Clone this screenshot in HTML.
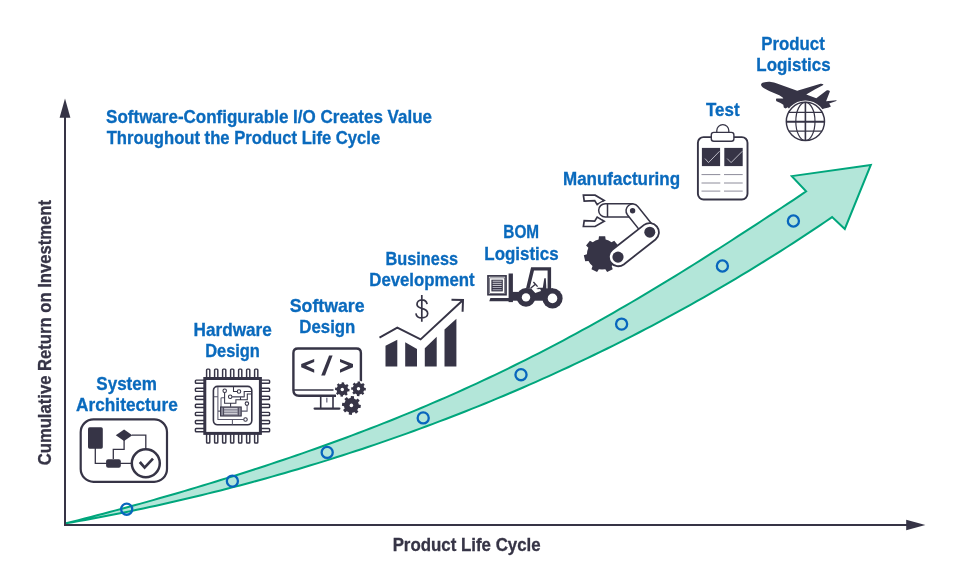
<!DOCTYPE html>
<html><head><meta charset="utf-8"><style>
html,body{margin:0;padding:0;background:#fff;}
svg{display:block;will-change:transform;}
text{font-family:"Liberation Sans",sans-serif;font-weight:bold;font-size:17.8px;}
</style></head><body>
<svg width="968" height="570" viewBox="0 0 968 570">
<rect width="968" height="570" fill="#fff"/>
<path d="M66,523.2 L72.22,521.71 L78.44,520.15 L84.66,518.56 L90.88,516.96 L97.1,515.34 L103.32,513.71 L109.54,512.06 L115.75,510.4 L121.97,508.72 L128.19,507.02 L134.41,505.32 L140.63,503.59 L146.85,501.85 L153.07,500.1 L159.29,498.33 L165.51,496.55 L171.73,494.75 L177.95,492.94 L184.17,491.11 L190.39,489.27 L196.61,487.41 L202.83,485.54 L209.04,483.65 L215.26,481.75 L221.48,479.83 L227.7,477.9 L233.92,475.95 L240.14,473.98 L246.36,471.99 L252.58,469.99 L258.8,467.97 L265.02,465.94 L271.24,463.88 L277.46,461.81 L283.68,459.72 L289.9,457.61 L296.12,455.48 L302.33,453.33 L308.55,451.16 L314.77,448.97 L320.99,446.76 L327.21,444.53 L333.43,442.28 L339.65,440 L345.87,437.7 L352.09,435.38 L358.31,433.04 L364.53,430.67 L370.75,428.28 L376.97,425.86 L383.19,423.42 L389.41,420.95 L395.62,418.46 L401.84,415.94 L408.06,413.4 L414.28,410.83 L420.5,408.23 L426.72,405.6 L432.94,402.94 L439.16,400.26 L445.38,397.55 L451.6,394.81 L457.82,392.04 L464.04,389.24 L470.26,386.41 L476.48,383.55 L482.69,380.66 L488.91,377.74 L495.13,374.79 L501.35,371.81 L507.57,368.8 L513.79,365.76 L520.01,362.68 L526.23,359.58 L532.45,356.44 L538.67,353.27 L544.89,350.07 L551.11,346.84 L557.33,343.57 L563.55,340.28 L569.77,336.95 L575.98,333.6 L582.2,330.21 L588.42,326.79 L594.64,323.34 L600.86,319.85 L607.08,316.34 L613.3,312.8 L619.52,309.23 L625.74,305.63 L631.96,302 L638.18,298.34 L644.4,294.66 L650.62,290.94 L656.84,287.2 L663.06,283.44 L669.27,279.64 L675.49,275.83 L681.71,271.99 L687.93,268.12 L694.15,264.23 L700.37,260.32 L706.59,256.39 L712.81,252.44 L719.03,248.47 L725.25,244.49 L731.47,240.48 L737.69,236.46 L743.91,232.43 L750.13,228.38 L756.35,224.33 L762.56,220.26 L768.78,216.18 L775,212.09 L781.22,208 L787.44,203.9 L793.66,199.8 L799.88,195.7 L806.1,191.4 L791.8,176.1 L870.8,165 L844.8,229 L832.1,217.1 L832.1,217.1 L825.66,221.5 L819.22,225.85 L812.79,230.15 L806.35,234.42 L799.91,238.65 L793.47,242.84 L787.04,246.99 L780.6,251.1 L774.16,255.17 L767.72,259.21 L761.28,263.21 L754.85,267.17 L748.41,271.09 L741.97,274.98 L735.53,278.84 L729.09,282.65 L722.66,286.44 L716.22,290.18 L709.78,293.89 L703.34,297.57 L696.91,301.21 L690.47,304.82 L684.03,308.4 L677.59,311.94 L671.15,315.44 L664.72,318.92 L658.28,322.36 L651.84,325.77 L645.4,329.15 L638.97,332.49 L632.53,335.8 L626.09,339.08 L619.65,342.33 L613.21,345.55 L606.78,348.74 L600.34,351.9 L593.9,355.02 L587.46,358.12 L581.03,361.18 L574.59,364.22 L568.15,367.23 L561.71,370.2 L555.27,373.15 L548.84,376.07 L542.4,378.96 L535.96,381.82 L529.52,384.66 L523.08,387.46 L516.65,390.24 L510.21,392.99 L503.77,395.71 L497.33,398.4 L490.9,401.07 L484.46,403.71 L478.02,406.32 L471.58,408.91 L465.14,411.47 L458.71,414 L452.27,416.51 L445.83,418.99 L439.39,421.44 L432.96,423.87 L426.52,426.27 L420.08,428.65 L413.64,431.01 L407.2,433.33 L400.77,435.64 L394.33,437.91 L387.89,440.17 L381.45,442.39 L375.02,444.6 L368.58,446.78 L362.14,448.93 L355.7,451.06 L349.26,453.17 L342.83,455.25 L336.39,457.31 L329.95,459.35 L323.51,461.36 L317.07,463.35 L310.64,465.31 L304.2,467.25 L297.76,469.17 L291.32,471.07 L284.89,472.94 L278.45,474.79 L272.01,476.62 L265.57,478.42 L259.13,480.2 L252.7,481.96 L246.26,483.7 L239.82,485.41 L233.38,487.1 L226.95,488.77 L220.51,490.42 L214.07,492.05 L207.63,493.65 L201.19,495.23 L194.76,496.79 L188.32,498.32 L181.88,499.84 L175.44,501.33 L169.01,502.8 L162.57,504.25 L156.13,505.68 L149.69,507.09 L143.25,508.47 L136.82,509.83 L130.38,511.17 L123.94,512.49 L117.5,513.79 L111.06,515.07 L104.63,516.32 L98.19,517.55 L91.75,518.76 L85.31,519.95 L78.88,521.12 L72.44,522.27 L66,523.2Z" fill="#b3e6d9" stroke="#00a67c" stroke-width="2" stroke-linejoin="miter"/>
<circle cx="126.7" cy="509.2" r="5.55" fill="none" stroke="#0866bd" stroke-width="2.3"/>
<circle cx="232.4" cy="481.1" r="5.55" fill="none" stroke="#0866bd" stroke-width="2.3"/>
<circle cx="327.2" cy="452.4" r="5.55" fill="none" stroke="#0866bd" stroke-width="2.3"/>
<circle cx="423.2" cy="417.9" r="5.55" fill="none" stroke="#0866bd" stroke-width="2.3"/>
<circle cx="521" cy="374.7" r="5.55" fill="none" stroke="#0866bd" stroke-width="2.3"/>
<circle cx="621.6" cy="324.1" r="5.55" fill="none" stroke="#0866bd" stroke-width="2.3"/>
<circle cx="722.4" cy="266.0" r="5.55" fill="none" stroke="#0866bd" stroke-width="2.3"/>
<circle cx="793.4" cy="221.0" r="5.55" fill="none" stroke="#0866bd" stroke-width="2.3"/>
<path d="M65,116 V525 H907" fill="none" stroke="#363446" stroke-width="2"/>
<path d="M65,98.4 L59.6,117.8 L70.4,117.8Z" fill="#363446"/>
<path d="M925.4,525 L906.2,519.7 L906.2,530.3Z" fill="#363446"/>
<text x="106.1" y="122.8" text-anchor="start" fill="#0a6abd" stroke="#0a6abd" stroke-width="0.3" textLength="325.93" lengthAdjust="spacingAndGlyphs">Software-Configurable I/O Creates Value</text>
<text x="106.7" y="143.9" text-anchor="start" fill="#0a6abd" stroke="#0a6abd" stroke-width="0.3" textLength="273.54" lengthAdjust="spacingAndGlyphs">Throughout the Product Life Cycle</text>
<text x="126.6" y="389.8" text-anchor="middle" fill="#0a6abd" stroke="#0a6abd" stroke-width="0.3" textLength="60.59" lengthAdjust="spacingAndGlyphs">System</text>
<text x="126.9" y="410.9" text-anchor="middle" fill="#0a6abd" stroke="#0a6abd" stroke-width="0.3" textLength="101.72" lengthAdjust="spacingAndGlyphs">Architecture</text>
<text x="232.65" y="336.3" text-anchor="middle" fill="#0a6abd" stroke="#0a6abd" stroke-width="0.3" textLength="78.19" lengthAdjust="spacingAndGlyphs">Hardware</text>
<text x="232.55" y="357.1" text-anchor="middle" fill="#0a6abd" stroke="#0a6abd" stroke-width="0.3" textLength="54.76" lengthAdjust="spacingAndGlyphs">Design</text>
<text x="327.15" y="312.1" text-anchor="middle" fill="#0a6abd" stroke="#0a6abd" stroke-width="0.3" textLength="74.8" lengthAdjust="spacingAndGlyphs">Software</text>
<text x="327.35" y="332.8" text-anchor="middle" fill="#0a6abd" stroke="#0a6abd" stroke-width="0.3" textLength="55.97" lengthAdjust="spacingAndGlyphs">Design</text>
<text x="421.8" y="265.1" text-anchor="middle" fill="#0a6abd" stroke="#0a6abd" stroke-width="0.3" textLength="72.42" lengthAdjust="spacingAndGlyphs">Business</text>
<text x="421.95" y="286.0" text-anchor="middle" fill="#0a6abd" stroke="#0a6abd" stroke-width="0.3" textLength="105.31" lengthAdjust="spacingAndGlyphs">Development</text>
<text x="521.2" y="237.9" text-anchor="middle" fill="#0a6abd" stroke="#0a6abd" stroke-width="0.3" textLength="35.76" lengthAdjust="spacingAndGlyphs">BOM</text>
<text x="521.5" y="259.6" text-anchor="middle" fill="#0a6abd" stroke="#0a6abd" stroke-width="0.3" textLength="74.28" lengthAdjust="spacingAndGlyphs">Logistics</text>
<text x="621.55" y="184.5" text-anchor="middle" fill="#0a6abd" stroke="#0a6abd" stroke-width="0.3" textLength="117.09" lengthAdjust="spacingAndGlyphs">Manufacturing</text>
<text x="722.8" y="115.8" text-anchor="middle" fill="#0a6abd" stroke="#0a6abd" stroke-width="0.3" textLength="33.48" lengthAdjust="spacingAndGlyphs">Test</text>
<text x="793.1" y="49.5" text-anchor="middle" fill="#0a6abd" stroke="#0a6abd" stroke-width="0.3" textLength="63.46" lengthAdjust="spacingAndGlyphs">Product</text>
<text x="793.45" y="70.9" text-anchor="middle" fill="#0a6abd" stroke="#0a6abd" stroke-width="0.3" textLength="74.18" lengthAdjust="spacingAndGlyphs">Logistics</text>
<text x="466.65" y="550.8" text-anchor="middle" fill="#363446" stroke="#363446" stroke-width="0.3" textLength="148.05" lengthAdjust="spacingAndGlyphs">Product Life Cycle</text>
<text transform="translate(50.5,332.65) rotate(-90)" text-anchor="middle" fill="#363446" stroke="#363446" stroke-width="0.3" textLength="265.25" lengthAdjust="spacingAndGlyphs">Cumulative Return on Investment</text>
<g fill="none" stroke="#363446">
<rect x="80.7" y="419.4" width="86.3" height="62.4" rx="12.8" stroke-width="2.2"/>
<path d="M95.3,448 V463.3 H107 M113.3,459 V449.4 H124.1 V440 M132,435.2 H145.8 V449 M120,463.3 H132" stroke-width="1.3"/>
<circle cx="145.8" cy="463.3" r="14" stroke-width="2.5"/>
<path d="M139.8,462 L144.6,467.6 L153,458.6" stroke-width="2.7"/>
</g>
<g fill="#363446">
<rect x="88" y="427.3" width="14.8" height="21.4" rx="1.6"/>
<rect x="106.1" y="459.2" width="14.7" height="8.5" rx="2"/>
<path d="M115.8,435.2 L124.1,429.4 L132.3,435.2 L124.1,441Z"/>
</g>
<g fill="#fff" stroke="#363446" stroke-width="1.45">
<rect x="206.6" y="369.1" width="3.2" height="10" rx="0.8"/><rect x="206.6" y="432.6" width="3.2" height="10.4" rx="0.8"/><rect x="195.4" y="380.1" width="10" height="3.2" rx="0.8"/><rect x="259.5" y="380.1" width="10.1" height="3.2" rx="0.8"/><rect x="214.6" y="369.1" width="3.2" height="10" rx="0.8"/><rect x="214.6" y="432.6" width="3.2" height="10.4" rx="0.8"/><rect x="195.4" y="388.17" width="10" height="3.2" rx="0.8"/><rect x="259.5" y="388.17" width="10.1" height="3.2" rx="0.8"/><rect x="222.6" y="369.1" width="3.2" height="10" rx="0.8"/><rect x="222.6" y="432.6" width="3.2" height="10.4" rx="0.8"/><rect x="195.4" y="396.24" width="10" height="3.2" rx="0.8"/><rect x="259.5" y="396.24" width="10.1" height="3.2" rx="0.8"/><rect x="230.6" y="369.1" width="3.2" height="10" rx="0.8"/><rect x="230.6" y="432.6" width="3.2" height="10.4" rx="0.8"/><rect x="195.4" y="404.31" width="10" height="3.2" rx="0.8"/><rect x="259.5" y="404.31" width="10.1" height="3.2" rx="0.8"/><rect x="238.6" y="369.1" width="3.2" height="10" rx="0.8"/><rect x="238.6" y="432.6" width="3.2" height="10.4" rx="0.8"/><rect x="195.4" y="412.38" width="10" height="3.2" rx="0.8"/><rect x="259.5" y="412.38" width="10.1" height="3.2" rx="0.8"/><rect x="246.6" y="369.1" width="3.2" height="10" rx="0.8"/><rect x="246.6" y="432.6" width="3.2" height="10.4" rx="0.8"/><rect x="195.4" y="420.45" width="10" height="3.2" rx="0.8"/><rect x="259.5" y="420.45" width="10.1" height="3.2" rx="0.8"/><rect x="254.6" y="369.1" width="3.2" height="10" rx="0.8"/><rect x="254.6" y="432.6" width="3.2" height="10.4" rx="0.8"/><rect x="195.4" y="428.52" width="10" height="3.2" rx="0.8"/><rect x="259.5" y="428.52" width="10.1" height="3.2" rx="0.8"/>
</g>
<rect x="204.8" y="378.5" width="55.6" height="54.9" fill="#fff" stroke="#363446" stroke-width="3"/>
<rect x="213.4" y="386.4" width="38.4" height="38.4" rx="4.2" fill="#fff" stroke="#363446" stroke-width="1.6"/>
<g fill="none" stroke="#5a596c" stroke-width="1.05">
<path d="M217.9,387 V419.4 H243.6 M213.8,396.7 H217.9 M232.4,419.4 V424.5 M217.9,411.1 H220.3 M241.5,411.1 H247.1 V405.4"/>
<path d="M221,416 V398.6 Q221,397.7 222,397.7 H224.5"/>
</g>
<g fill="none" stroke="#363446" stroke-width="1.05">
<path d="M224.6,392.5 V403.2 H235.9 V399.7 H247.3 V394 H251.2 M239,391.4 H233.5 V386.8 M232,396.8 H244.2 V391.4 H251.2 M240.5,396.8 V399.7 M230.6,403.2 V406.7"/>
<circle cx="224.7" cy="390.7" r="1.75" fill="#fff"/>
<circle cx="239" cy="391.4" r="1.75" fill="#fff"/>
<circle cx="230.2" cy="396.8" r="1.75" fill="#fff"/>
<circle cx="246.9" cy="403.6" r="1.75" fill="#fff"/>
<circle cx="245.5" cy="419.4" r="1.75" fill="#fff"/>
</g>
<path d="M232,396.8 H244.2" stroke="#6d6c7e" stroke-width="1.2"/>
<rect x="220.6" y="407" width="20.6" height="9" fill="#8e8d9c" stroke="#363446" stroke-width="1.1"/>
<path d="M224,408.6 H237.5 M224,411.1 H237.5 M224,413.6 H237.5" stroke="#dcdce2" stroke-width="0.9"/>
<path d="M223.6,407.5 V415.5 M238.3,407.5 V415.5" stroke="#363446" stroke-width="0.8"/>
<g fill="none" stroke="#363446">
<path d="M336,395.7 H299 Q293.4,395.7 293.4,390 V353 Q293.4,348.5 297.9,348.5 H356.4 Q360.9,348.5 360.9,353 V381.3" stroke-width="2.4"/>
<path d="M294,390 H333.5" stroke-width="1.6"/>
<path d="M320.7,396.5 V408 M333,396.5 V408" stroke-width="1.6"/>
<path d="M314.6,408.6 H339.4" stroke-width="2.2" stroke-linecap="round"/>
</g>
<path d="M326.8,397.7 V402.4" stroke="#77768a" stroke-width="1.4"/>
<g fill="#363446">
<path d="M314.2,358.9 L301.2,363.9 L301.2,367.2 L314.2,372.8 L314.2,369.4 L306,365.6 L314.2,361.9Z"/>
<path d="M340,358.9 L353,363.9 L353,367.2 L340,372.8 L340,369.4 L348.2,365.6 L340,361.9Z"/>
<path d="M329.1,355.6 L332.6,355.6 L325,375.6 L321.2,375.6Z"/>
</g>
<path d="M347.95,388.77 L349.58,389.03 L349.35,391.41 L347.7,391.33 L347.32,392.2 L346.81,392.98 L347.79,394.32 L345.93,395.83 L344.82,394.61 L343.94,394.96 L343.03,395.15 L342.77,396.78 L340.39,396.55 L340.47,394.9 L339.6,394.52 L338.82,394.01 L337.48,394.99 L335.97,393.13 L337.19,392.02 L336.84,391.14 L336.65,390.23 L335.02,389.97 L335.25,387.59 L336.9,387.67 L337.28,386.8 L337.79,386.02 L336.81,384.68 L338.67,383.17 L339.78,384.39 L340.66,384.04 L341.57,383.85 L341.83,382.22 L344.21,382.45 L344.13,384.1 L345,384.48 L345.78,384.99 L347.12,384.01 L348.63,385.87 L347.41,386.98 L347.76,387.86Z" fill="#363446" stroke="#fff" stroke-width="1.6" paint-order="stroke" stroke-linejoin="round"/>
<circle cx="342.3" cy="389.5" r="1.7" fill="#fff"/>
<path d="M364.21,387.77 L365.85,387.95 L365.73,390.38 L364.08,390.39 L363.74,391.28 L363.26,392.11 L364.3,393.4 L362.5,395.03 L361.32,393.87 L360.45,394.26 L359.53,394.51 L359.35,396.15 L356.92,396.03 L356.91,394.38 L356.02,394.04 L355.19,393.56 L353.9,394.6 L352.27,392.8 L353.43,391.62 L353.04,390.75 L352.79,389.83 L351.15,389.65 L351.27,387.22 L352.92,387.21 L353.26,386.32 L353.74,385.49 L352.7,384.2 L354.5,382.57 L355.68,383.73 L356.55,383.34 L357.47,383.09 L357.65,381.45 L360.08,381.57 L360.09,383.22 L360.98,383.56 L361.81,384.04 L363.1,383 L364.73,384.8 L363.57,385.98 L363.96,386.85Z" fill="#363446" stroke="#fff" stroke-width="1.6" paint-order="stroke" stroke-linejoin="round"/>
<circle cx="358.5" cy="388.8" r="1.7" fill="#fff"/>
<path d="M358.76,404.6 L360.89,404.97 L360.52,408.07 L358.36,407.92 L357.85,409.03 L357.17,410.04 L358.41,411.81 L355.96,413.73 L354.54,412.1 L353.39,412.53 L352.2,412.76 L351.83,414.89 L348.73,414.52 L348.88,412.36 L347.77,411.85 L346.76,411.17 L344.99,412.41 L343.07,409.96 L344.7,408.54 L344.27,407.39 L344.04,406.2 L341.91,405.83 L342.28,402.73 L344.44,402.88 L344.95,401.77 L345.63,400.76 L344.39,398.99 L346.84,397.07 L348.26,398.7 L349.41,398.27 L350.6,398.04 L350.97,395.91 L354.07,396.28 L353.92,398.44 L355.03,398.95 L356.04,399.63 L357.81,398.39 L359.73,400.84 L358.1,402.26 L358.53,403.41Z" fill="#363446" stroke="#fff" stroke-width="1.6" paint-order="stroke" stroke-linejoin="round"/>
<circle cx="351.4" cy="405.4" r="1.8" fill="#fff"/>
<g fill="#363446">
<path d="M385.5,345.8 L397.3,339.8 V366.5 H385.5Z M405.2,342.2 L417,348.9 V366.5 H405.2Z M424.8,348.2 L436.7,336.7 V366.5 H424.8Z M444.5,329.6 L456.4,318.8 V366.5 H444.5Z"/>
</g>
<path d="M379.5,337.7 L397.3,327.6 L420.6,339.4 L462.5,300.5" fill="none" stroke="#363446" stroke-width="2"/>
<path d="M451.5,299.8 L463,300 L462.6,311.7" fill="none" stroke="#363446" stroke-width="2"/>
<path d="M427.1,304.2 C426.6,301.5 424.4,299.9 421.9,299.9 C419.1,299.9 417,301.9 417,304.3 C417,306.8 419,307.7 421.8,308.4 C425.2,309.3 427.7,310.5 427.7,313.5 C427.7,316.1 425.1,317.9 421.9,317.9 C418.6,317.9 416.3,316 415.9,313.3 M421.8,295.1 V321.7" fill="none" stroke="#363446" stroke-width="1.7"/>
<g fill="#363446">
<rect x="508.6" y="273.5" width="4.3" height="28.6"/>
<path d="M490.4,297.9 H512.9 V301.3 H489.3Z"/>
<rect x="512" y="291.9" width="16" height="8.8"/>
<rect x="526" y="288.4" width="27" height="12.3"/>
<path d="M531.1,267.2 H551.1 V289 H547.6 V270.6 H534 L529.6,288.5 L526,288.5Z"/>
<path d="M544.3,278.2 L545.8,278.2 L546.4,289 L542.6,289Z"/>
<circle cx="526" cy="297.4" r="9.3"/><circle cx="552.5" cy="298.4" r="10.1"/>
</g>
<circle cx="526" cy="297.4" r="4.2" fill="#fff"/><circle cx="552.5" cy="298.4" r="4.8" fill="#fff"/>
<path d="M530.9,288.2 L535.3,293.1 L541,290.9 L540.2,289.1 L537.6,289.3 L535.6,287.6Z" fill="#fff"/>
<path d="M533.4,282 L537.6,286.6 M535.4,284.2 L530.6,288.3 M537.8,288.4 H543" stroke="#363446" stroke-width="1.4" fill="none"/>
<rect x="488" y="275.9" width="18" height="18.8" fill="#fff" stroke="#363446" stroke-width="1.7"/>
<rect x="489.7" y="277.9" width="15" height="15.4" fill="none" stroke="#363446" stroke-width="0.6"/>
<rect x="491.4" y="279.7" width="11.4" height="11.7" fill="#363446"/>
<path d="M492.6,281.2 H501.7 M492.6,283.3 H501.7 M492.6,285.4 H501.7" stroke="#e4e4ea" stroke-width="0.9"/>
<path d="M492.6,287.5 H501.7 M492.6,289.8 H501.7" stroke="#a9a8b6" stroke-width="1.1"/>
<path d="M598.58,239.51 L598.99,236.27 L605.21,236.27 L605.62,239.51 L608.7,240.61 L611.47,242.33 L614.26,240.63 L618.14,245.48 L615.85,247.83 L616.92,250.92 L617.3,254.16 L620.37,255.29 L618.99,261.34 L615.73,261.02 L613.98,263.78 L611.68,266.1 L612.72,269.2 L607.13,271.9 L605.35,269.15 L602.1,269.5 L598.85,269.15 L597.07,271.9 L591.48,269.2 L592.52,266.1 L590.22,263.78 L588.47,261.02 L585.21,261.34 L583.83,255.29 L586.9,254.16 L587.28,250.92 L588.35,247.83 L586.06,245.48 L589.94,240.63 L592.73,242.33 L595.5,240.61Z" fill="#363446" stroke-linejoin="round"/>
<g fill="#fff" stroke="#363446" stroke-width="1.7" stroke-linejoin="miter">
<path d="M583.4,195.2 L595.1,195.2 L604.2,200.4 L597.2,204.6 L594.7,200.6 L584.2,201.1Z"/>
<path d="M583.4,226.5 L595.1,226.5 L604.2,221.2 L597.2,217.1 L594.7,221.2 L584.2,220.6Z"/>
</g>
<path d="M605.3,203.7 H632.6 V217 H605.3 A6.65,6.65 0 0 1 605.3,203.7Z" fill="#fff" stroke="#fff" stroke-width="4.5"/>
<path d="M605.3,203.7 H632.6 V217 H605.3 A6.65,6.65 0 0 1 605.3,203.7Z M607.5,203.7 V217" fill="#fff" stroke="#363446" stroke-width="1.5"/>
<path d="M627.36,214.77 L644.56,236.37 A6.7,6.7 0 0 0 655.04,228.03 L637.84,206.43 A6.7,6.7 0 0 0 627.36,214.77Z" fill="#fff" stroke="#363446" stroke-width="1.5"/>
<path d="M623.73,264.42 L655.53,239.52 A9.3,9.3 0 0 0 644.07,224.88 L612.27,249.78 A9.3,9.3 0 0 0 623.73,264.42Z" fill="#fff" stroke="#363446" stroke-width="1.8"/>
<circle cx="632.6" cy="210.8" r="2.7" fill="#363446"/>
<circle cx="649.8" cy="232.2" r="5.5" fill="#363446"/>
<circle cx="618" cy="257.1" r="5.6" fill="#363446"/>
<rect x="697.9" y="137.1" width="49.6" height="62.4" rx="5.7" fill="#fff" stroke="#363446" stroke-width="1.9"/>
<path d="M716.8,132.4 V130.6 A6,6 0 0 1 728.8,130.6 V132.4" fill="#fff" stroke="#363446" stroke-width="1.3"/>
<rect x="711.3" y="132.4" width="22.6" height="8.9" rx="2.5" fill="#fff" stroke="#363446" stroke-width="1.4"/>
<rect x="701.9" y="147.9" width="18.2" height="18.2" fill="#363446"/>
<rect x="724.3" y="147.9" width="18.4" height="18.2" fill="#363446"/>
<path d="M705,158.6 L708.5,162.6 L719.6,151.2 M727.2,158.6 L731.1,162.6 L742.4,151.2" fill="none" stroke="#c9c8d2" stroke-width="0.9"/>
<path d="M701.5,174.6 H720.3 M724,174.6 H742.7 M701.5,183 H720.3 M724,183 H742.7 M701.5,191.1 H720.3 M724,191.1 H742.7" stroke="#8d8c9a" stroke-width="1"/>
<path fill="#363446" d="M761.1,85.1 C760.8,83.8 762,83 763.5,82.6 C766,81.8 768.5,81.7 771,81.9 C773,82.1 775,82.8 777,83.6 L797.2,90.7 L819.7,83.9 C821,83.6 822.5,83.7 823.3,84.3 C823.5,84.8 823,85.1 822.4,85.5 L815.2,89.3 L806.2,94.6 L816.3,98.2 L826.5,90.6 C827.6,90.2 829,90.3 829.8,90.9 C830,91.5 829.7,92 829.5,92.4 L826.1,101.3 L836.2,100.2 C836.8,100.3 836.7,100.8 836.3,101 L829.2,103.6 L830.9,106.4 L828.7,107.5 L824.2,108.6 L815,112 L800,112 L790,110 L787.8,107.2 L785.5,108.5 L783.8,107.5 L783.3,104.8 L780.5,103 L776.5,101.3 C775.8,100.4 775.8,99 776.5,98.5 L783.3,98.5 L782.7,97.4 L779.3,95.2 L769.2,91 L763.6,87.9 C762.2,87 761.3,86.2 761.1,85.1Z"/>
<circle cx="805.4" cy="121.4" r="19.1" fill="#fff" stroke="#fff" stroke-width="3.6"/>
<g fill="none" stroke="#363446">
<circle cx="805.4" cy="121.4" r="19.1" stroke-width="1.45"/>
<ellipse cx="805.4" cy="121.4" rx="9.6" ry="19.1" stroke-width="1.2"/>
<path d="M805.4,102.3 V140.5" stroke-width="1.6"/>
<path d="M788.55,112.4 H822.25" stroke-width="1.2"/>
<path d="M786.3,121.8 H824.5" stroke-width="1.9"/>
<path d="M788.95,131.1 H821.85" stroke-width="1.2"/>
</g>
</svg>
</body></html>
